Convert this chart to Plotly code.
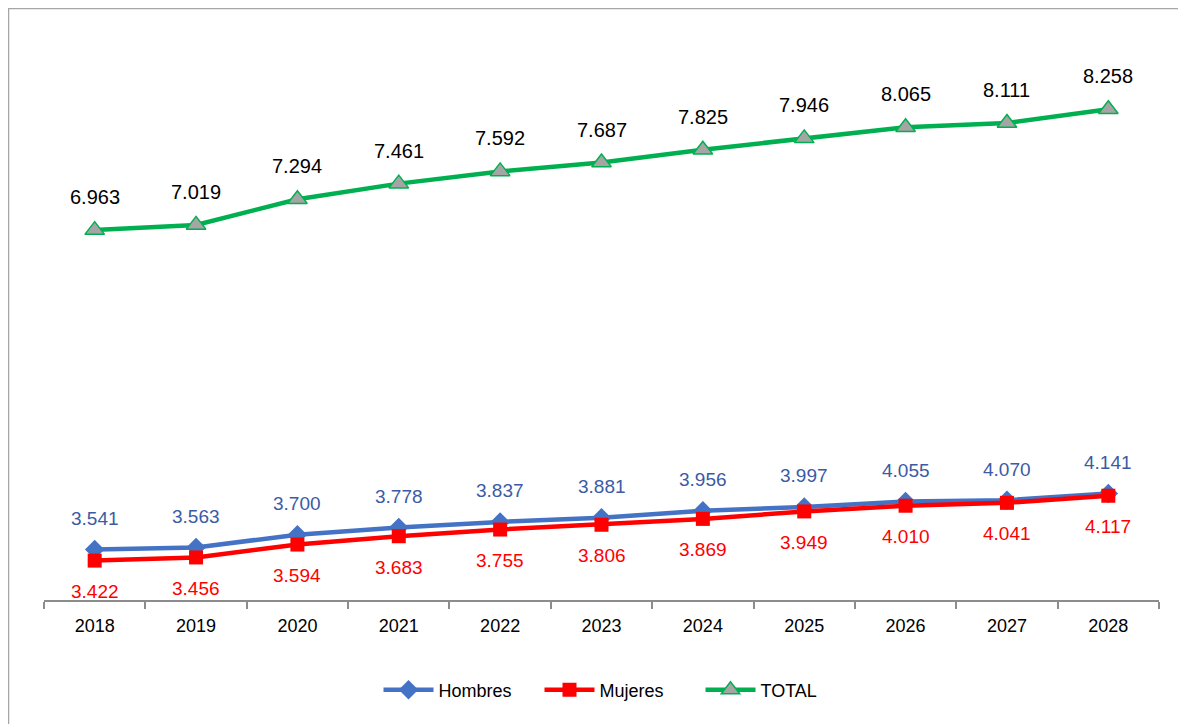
import plotly.graph_objects as go

years = ["2018", "2019", "2020", "2021", "2022", "2023", "2024", "2025", "2026", "2027", "2028"]
hombres = [3541, 3563, 3700, 3778, 3837, 3881, 3956, 3997, 4055, 4070, 4141]
mujeres = [3422, 3456, 3594, 3683, 3755, 3806, 3869, 3949, 4010, 4041, 4117]
total = [6963, 7019, 7294, 7461, 7592, 7687, 7825, 7946, 8065, 8111, 8258]

FONT = "Liberation Sans Narrow, Arial Narrow, Liberation Sans, Arial, sans-serif"

def fmt(v):
    return f"{v:,}".replace(",", ".")

OFF = 8  # page body margin
W, H = 1178, 716
ML, MR, MT, MB = 36, 27, 32, 124
PW = W - ML - MR
PH = H - MT - MB

def px_x(p):
    return (p - OFF - ML) / PW

def px_y(p):
    return (H - MB - (p - OFF)) / PH

fig = go.Figure()
fig.add_trace(go.Scatter(
    x=years, y=hombres, name="Hombres", mode="lines+markers",
    line=dict(color="#4472C4", width=4.5),
    marker=dict(symbol="diamond", size=15, color="#4472C4"),
))
fig.add_trace(go.Scatter(
    x=years, y=mujeres, name="Mujeres", mode="lines+markers",
    line=dict(color="#FF0000", width=4.5),
    marker=dict(symbol="square", size=14, color="#FF0000"),
))
fig.add_trace(go.Scatter(
    x=years, y=total, name="TOTAL", mode="lines+markers",
    line=dict(color="#00B050", width=4.5),
    marker=dict(symbol="triangle-up", size=17, color="#A5A5A5",
                line=dict(color="#00B050", width=1.5)),
))

# category axis: annotation positions given as category index
annotations = []
for i, v in enumerate(total):
    annotations.append(dict(x=i, y=v, xref="x", yref="y", text=fmt(v), showarrow=False,
                            yshift=33, font=dict(family=FONT, size=20, color="#000000")))
for i, v in enumerate(hombres):
    annotations.append(dict(x=i, y=v, xref="x", yref="y", text=fmt(v), showarrow=False,
                            yshift=31, font=dict(family=FONT, size=19, color="#3B5BA5")))
for i, v in enumerate(mujeres):
    annotations.append(dict(x=i, y=v, xref="x", yref="y", text=fmt(v), showarrow=False,
                            yshift=-31, font=dict(family=FONT, size=19, color="#FF0000")))

shapes = [
    dict(type="line", xref="paper", yref="paper", x0=px_x(8), x1=px_x(1200), y0=px_y(8.5), y1=px_y(8.5),
         line=dict(color="#A6A6A6", width=1.5)),
    dict(type="line", xref="paper", yref="paper", x0=px_x(8.5), x1=px_x(8.5), y0=px_y(8), y1=px_y(740),
         line=dict(color="#A6A6A6", width=1.5)),
]

fig.update_layout(
    width=W, height=H,
    margin=dict(l=ML, r=MR, t=MT, b=MB),
    paper_bgcolor="white", plot_bgcolor="white",
    font=dict(family=FONT, size=18, color="#000000"),
    showlegend=True,
    legend=dict(orientation="h", x=px_x(620), xanchor="center", y=px_y(690), yanchor="middle",
                font=dict(family=FONT, size=18, color="#000000"), itemwidth=50,
                entrywidth=96, bgcolor="rgba(0,0,0,0)"),
    xaxis=dict(type="category", range=[-0.5, 10.5], tickson="boundaries", ticks="outside",
               ticklen=7, tickcolor="#8C8C8C", tickwidth=1.5,
               showline=True, linecolor="#8C8C8C", linewidth=1.5,
               showgrid=False, zeroline=False, ticklabelstandoff=9,
               tickfont=dict(family=FONT, size=18, color="#000000")),
    yaxis=dict(range=[3000, 9000], showticklabels=False, ticks="", showline=False,
               showgrid=False, zeroline=False),
    annotations=annotations,
    shapes=shapes,
)

fig.write_html("out.html")
